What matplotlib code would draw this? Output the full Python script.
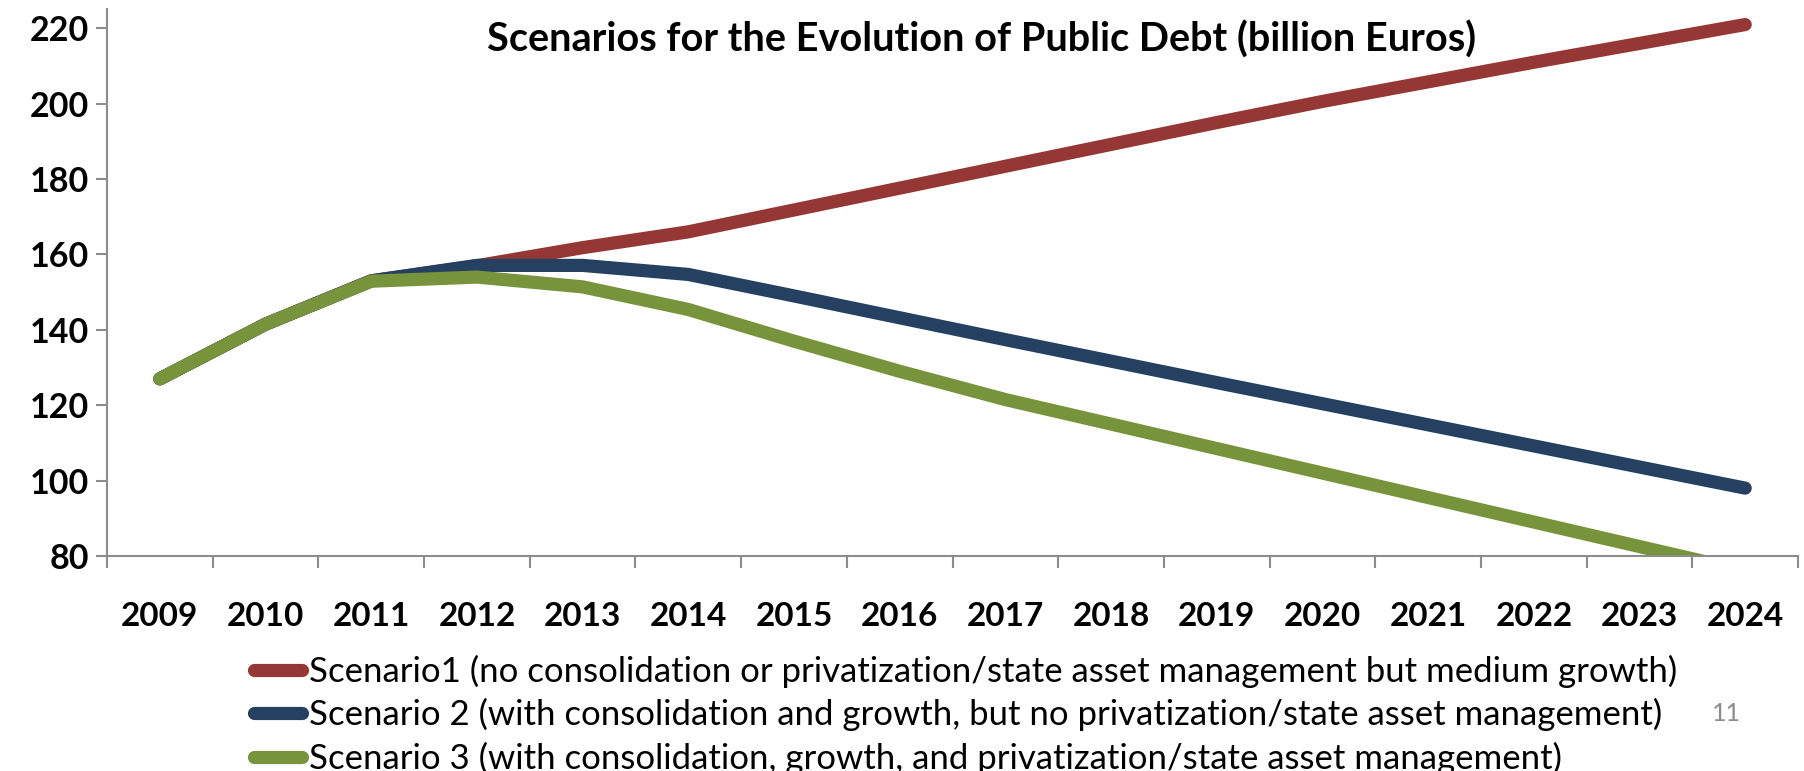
import matplotlib.pyplot as plt

# Public debt projections, billion euros
years = [str(y) for y in range(2009, 2025)]

scenario1 = [127, 141.5, 153, 157, 161.8, 166, 171.8, 177.6, 183.4, 189.2,
             195, 200.6, 205.8, 211, 216, 221]
scenario2 = [127, 141.5, 153, 157.1, 157.1, 154.7, 149, 143.2, 137.4, 131.7,
             126, 120.4, 114.8, 109.2, 103.6, 98]
scenario3 = [127, 141.5, 152.9, 154, 151.4, 145.4, 137, 129, 121.5, 115,
             108.5, 102, 95.5, 89, 82.5, 76]

labels = [
    "Scenario1 (no consolidation or privatization/state asset management but medium growth)",
    "Scenario 2 (with consolidation and growth, but no privatization/state asset management)",
    "Scenario 3 (with consolidation, growth, and privatization/state asset management)",
]
colors = ["#953735", "#254061", "#77933C"]

plt.rcParams['font.family'] = ['Lato', 'DejaVu Sans']

fig = plt.figure(figsize=(18.04, 7.71), dpi=100)
ax = fig.add_axes([0.0593, 0.2789, 0.9374, 0.7088])

x = list(range(len(years)))
lines = []
for vals, col, lab in zip([scenario1, scenario2, scenario3], colors, labels):
    ln, = ax.plot(x, vals, color=col, lw=9.5, label=lab,
                  solid_capstyle='round', solid_joinstyle='round')
    lines.append(ln)

ax.set_xlim(-0.5, len(years) - 0.5)
ax.set_ylim(80, 225)
ax.set_yticks(range(80, 221, 20))
ax.set_yticklabels([str(v) for v in range(80, 221, 20)],
                   fontsize=24.5, fontweight='bold')

# category labels sit between the boundary ticks
ax.set_xticks([i - 0.5 for i in range(len(years) + 1)])
ax.set_xticklabels([])
ax.set_xticks(x, minor=True)
ax.set_xticklabels(years, minor=True, fontsize=24, fontweight='bold')
ax.tick_params(axis='x', which='minor', length=0, pad=33)
ax.tick_params(axis='x', which='major', length=8.5, width=1.5, color='#8c8c8c')
ax.tick_params(axis='y', length=8, width=1.5, color='#8c8c8c', pad=5)

for side in ['top', 'right']:
    ax.spines[side].set_visible(False)
for side in ['left', 'bottom']:
    ax.spines[side].set_color('#8c8c8c')
    ax.spines[side].set_linewidth(1.5)

fig.text(0.544, 0.948, "Scenarios for the Evolution of Public Debt (billion Euros)",
         ha='center', va='center', fontsize=28.5, fontweight='bold')

fig.legend(handles=lines, loc='upper left', bbox_to_anchor=(0.141, 0.151),
           frameon=False, fontsize=25, handlelength=1.38, handletextpad=0.19,
           labelspacing=0.3, borderpad=0, borderaxespad=0)

fig.text(0.957, 0.075, "11", ha='center', va='center', fontsize=18, color='#8c8c8c')

fig.savefig("out.png", dpi=100)
